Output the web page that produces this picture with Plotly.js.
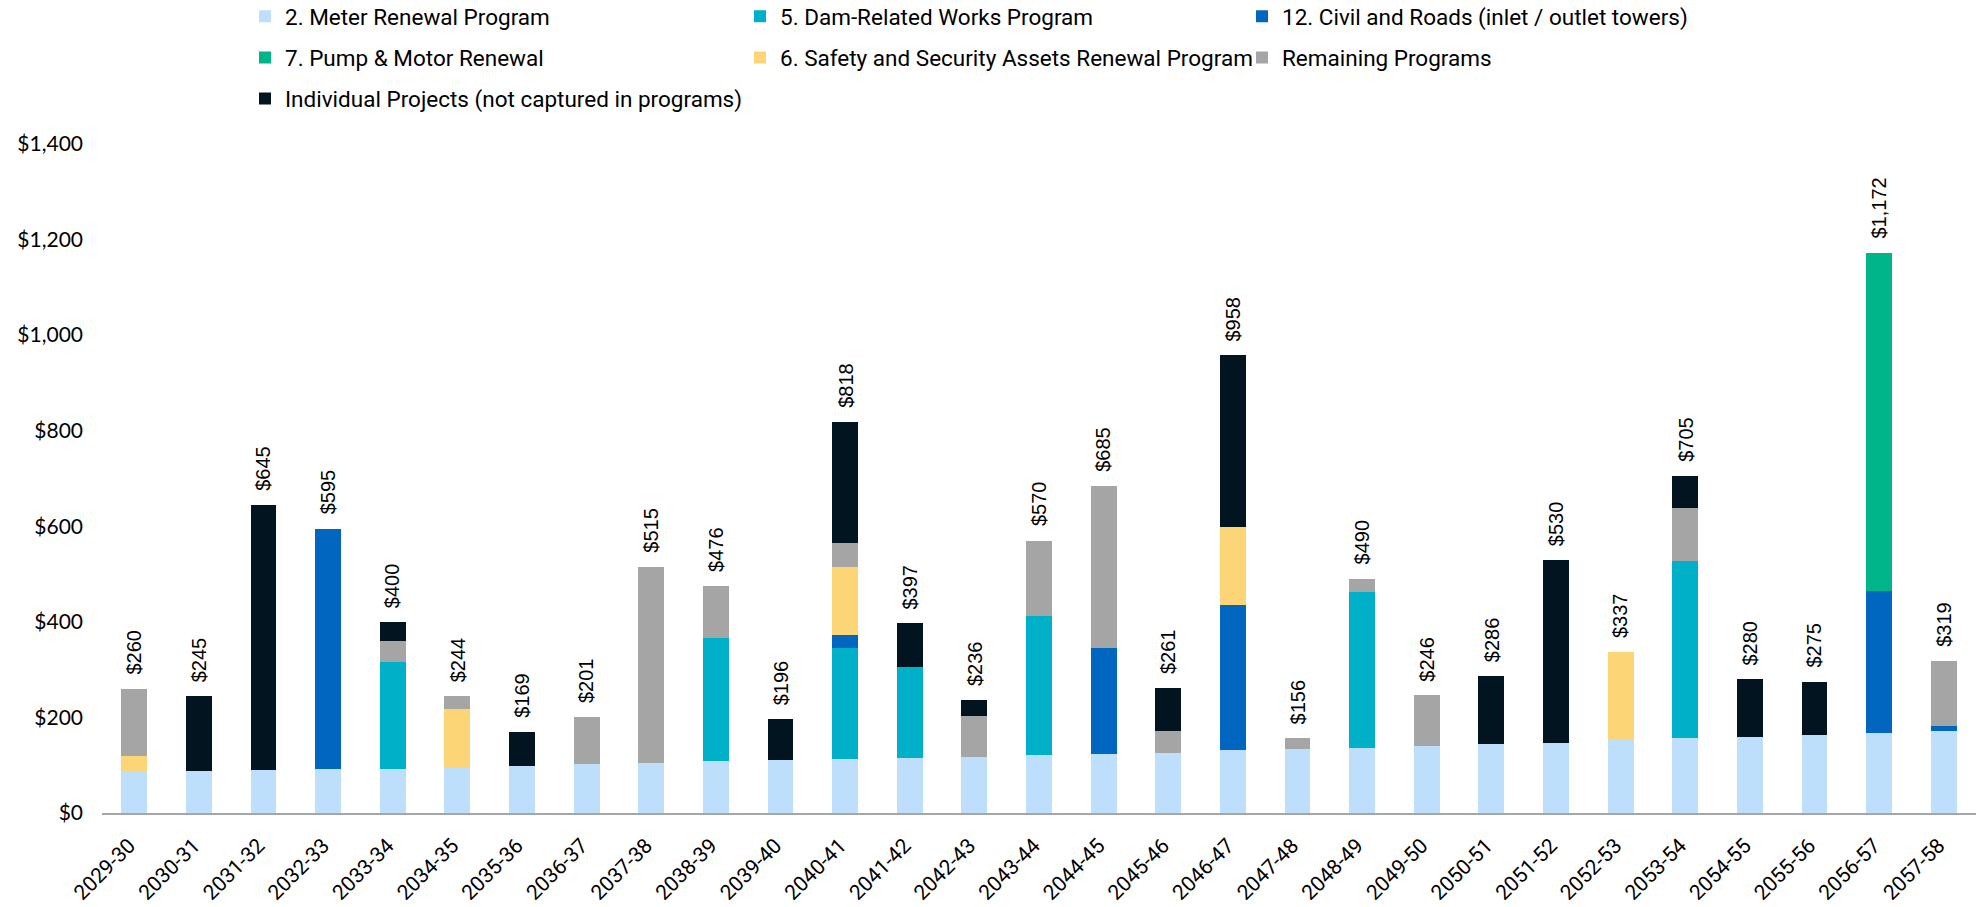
<!DOCTYPE html>
<html><head><meta charset="utf-8">
<script src="https://cdn.plot.ly/plotly-3.0.1.min.js"></script>
<style>html,body{margin:0;padding:0;background:#fff}</style>
</head><body><div id="chart" style="width:1984px;height:907px"></div>
<script>
const categories = ['2029-30','2030-31','2031-32','2032-33','2033-34','2034-35','2035-36','2036-37','2037-38','2038-39','2039-40','2040-41','2041-42','2042-43','2043-44','2044-45','2045-46','2046-47','2047-48','2048-49','2049-50','2050-51','2051-52','2052-53','2053-54','2054-55','2055-56','2056-57','2057-58'];
const meterRenewal   = [85,88,89,92,92,97,99,103,105,108,110,114,116,118,122,124,125,131,134,137,140,144,147,152,156,160,164,168,172];
const damWorks       = [0,0,0,0,225,0,0,0,0,258,0,232,190,0,291,0,0,0,0,325,0,0,0,0,371,0,0,0,0];
const civilRoads     = [0,0,0,503,0,0,0,0,0,0,0,26,0,0,0,222,0,305,0,0,0,0,0,0,0,0,0,297,10];
const pumpMotor      = [0,0,0,0,0,0,0,0,0,0,0,0,0,0,0,0,0,0,0,0,0,0,0,0,0,0,0,707,0];
const safetySecurity = [34,0,0,0,0,121,0,0,0,0,0,142,0,0,0,0,0,162,0,0,0,0,0,185,0,0,0,0,0];
const remaining      = [141,0,0,0,42,26,0,98,410,110,0,51,0,85,157,339,46,0,22,28,106,0,0,0,112,0,0,0,137];
const individual     = [0,157,556,0,41,0,70,0,0,0,86,253,91,33,0,0,90,360,0,0,0,142,383,0,66,120,111,0,0];

const seriesNames = ['2. Meter Renewal Program','5. Dam-Related Works Program','12. Civil and Roads (inlet / outlet towers)','7. Pump & Motor Renewal','6. Safety and Security Assets Renewal Program','Remaining Programs','Individual Projects (not captured in programs)'];
const seriesValues = [meterRenewal, damWorks, civilRoads, pumpMotor, safetySecurity, remaining, individual];
const seriesColors = ['#BDDFFC','#00AFC8','#0066BF','#00B58A','#FBD576','#A5A5A5','#02141F'];
const seriesLegend = ['legend','legend2','legend3','legend','legend2','legend3','legend'];

const traces = seriesNames.map((n,i)=>({
  type:'bar', name:n, x:categories, y:seriesValues[i],
  marker:{color:seriesColors[i], line:{width:0}},
  legend:seriesLegend[i], legendgroup:'g'+i,
  hoverinfo:'skip'
}));

const totals = categories.map((c,j)=>seriesValues.reduce((s,a)=>s+a[j],0));
const annotations = categories.map((c,j)=>({
  x:c, y:totals[j], xref:'x', yref:'y', text:'$'+totals[j].toLocaleString('en-US'),
  showarrow:false, textangle:-90, yanchor:'bottom', xanchor:'center', yshift:12,
  font:{family:'Liberation Sans, Arial, sans-serif', size:20, color:'#000'}
}));

const legFont = {family:'Roboto, sans-serif', size:22.5, color:'#000'};
const legBase = {orientation:'v', xref:'container', yref:'paper', xanchor:'left', yanchor:'top',
  y:(813+4.8)/669, font:legFont, bgcolor:'rgba(0,0,0,0)', traceorder:'grouped', tracegroupgap:8.8, itemclick:false, itemdoubleclick:false};

const layout = {
  width:1984, height:907,
  margin:{l:102, r:8, t:144, b:94, autoexpand:false},
  paper_bgcolor:'#fff', plot_bgcolor:'#fff',
  barmode:'stack', bargap:0.6,
  showlegend:true,
  legend:Object.assign({}, legBase, {x:245/1984}),
  legend2:Object.assign({}, legBase, {x:740/1984}),
  legend3:Object.assign({}, legBase, {x:1242/1984}),
  xaxis:{type:'category', range:[-0.5, 28.5], showline:true, linecolor:'#A6A6A6', linewidth:2,
    tickangle:-45, ticks:'', showgrid:false, zeroline:false, ticklabelstandoff:10, ticklabelshift:-5,
    tickfont:{family:'Roboto, sans-serif', size:21, color:'#000'}},
  yaxis:{range:[0,1400], dtick:200, tickprefix:'$', tickformat:',d', showgrid:false, zeroline:false,
    showline:false, ticks:'', ticklabelstandoff:18, automargin:false,
    tickfont:{family:'Lato, sans-serif', size:21, color:'#000'}},
  annotations:annotations
};

Plotly.newPlot('chart', traces, layout, {staticPlot:true, displayModeBar:false});
</script>
</body></html>
